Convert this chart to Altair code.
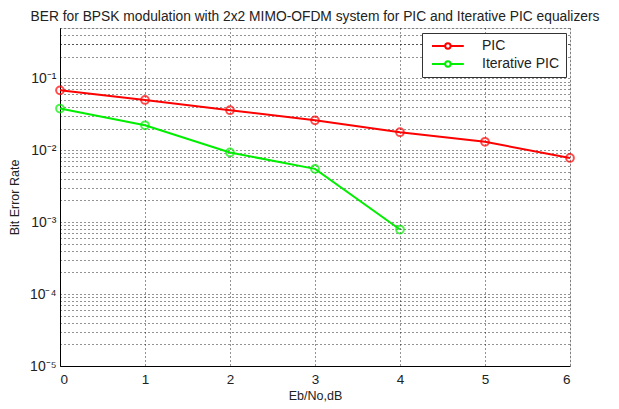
import altair as alt
import pandas as pd

snr_db = [0, 1, 2, 3, 4, 5, 6]
ber_pic = [0.068, 0.050, 0.036, 0.026, 0.0178, 0.0131, 0.0078]
snr_db_iter = [0, 1, 2, 3, 4]
ber_iter = [0.038, 0.0222, 0.0093, 0.0055, 0.00079]
series_names = ["PIC", "Iterative PIC"]
series_colors = ["#FF0000", "#00EE00"]
x_ticks = [0, 1, 2, 3, 4, 5, 6]

rows = [{"snr": s, "ber": b, "series": "PIC"} for s, b in zip(snr_db, ber_pic)]
rows += [{"snr": s, "ber": b, "series": "Iterative PIC"} for s, b in zip(snr_db_iter, ber_iter)]
df = pd.DataFrame(rows)

y_grid = [m * 10.0 ** e for e in range(-5, 0) for m in range(1, 10)] + [0.1, 0.2, 0.3, 0.4, 0.5]

sup = {-1: "10⁻¹", -2: "10⁻²", -3: "10⁻³", -4: "10⁻⁴", -5: "10⁻⁵"}
L = "round(log(datum.value)/LN10)"
expr = "''"
for k, v in sup.items():
    expr = f"{L} == {k} ? '{v}' : ({expr})"
label_expr = f"abs(log(datum.value)/LN10 - {L}) > 0.01 ? '' : ({expr})"

color_scale = alt.Scale(domain=series_names, range=series_colors)

legend_path = "M-1,0 L3.4,0 M5.2,0 L9.6,0 M3.4,0 A0.9,0.9 0 1,1 5.2,0 A0.9,0.9 0 1,1 3.4,0"

base = alt.Chart(df)

x_enc = alt.X("snr:Q", scale=alt.Scale(domain=[0, 6], nice=False),
              axis=alt.Axis(values=x_ticks, title="Eb/No,dB", format="d",
                            grid=True, gridDash=[1, 3], gridColor="#000000", gridOpacity=0.85,
                            ticks=False, labelFontSize=13.5, labelPadding=6,
                            titleFontSize=12.5, titleFontWeight="normal", titlePadding=4,
                            domainColor="#000000", labelColor="#222222", titleColor="#222222",
                            labelFont="Liberation Sans", titleFont="Liberation Sans"))
y_enc = alt.Y("ber:Q", scale=alt.Scale(type="log", domain=[1e-5, 0.5], nice=False),
              axis=alt.Axis(values=y_grid, labelExpr=label_expr, title="Bit Error Rate",
                            grid=True, gridDash=[1, 3], gridColor="#000000", gridOpacity=0.85,
                            ticks=False, labelFontSize=14, labelPadding=4,
                            titleFontSize=12.5, titleFontWeight="normal", titlePadding=8,
                            domainColor="#000000", labelColor="#222222", titleColor="#222222",
                            labelFont="Liberation Sans", titleFont="Liberation Sans",
                            labelOverlap=False))

color_enc = alt.Color("series:N", scale=color_scale, sort=series_names,
                      legend=alt.Legend(title=None, orient="none", legendX=362, legendY=5,
                                        fillColor="white", strokeColor="#333333",
                                        padding=6, symbolType=legend_path, symbolSize=36,
                                        symbolStrokeWidth=2, symbolFillColor="transparent",
                                        labelFontSize=14, labelOffset=40, rowPadding=4,
                                        labelFont="Liberation Sans", labelColor="#222222"))

lines = base.mark_line(strokeWidth=2).encode(x=x_enc, y=y_enc, color=color_enc)
points = base.mark_point(shape="circle", filled=False, size=60, strokeWidth=2).encode(
    x="snr:Q", y="ber:Q", color=alt.Color("series:N", scale=color_scale, legend=None))

chart = alt.layer(lines, points).properties(
    width=510, height=338,
    autosize=alt.AutoSizeParams(type="none"),
    padding={"left": 52, "top": 20, "right": 41, "bottom": 40},
    title=alt.TitleParams("BER for BPSK modulation with 2x2 MIMO-OFDM system for PIC and Iterative PIC equalizers",
                          fontSize=13.8, fontWeight="normal", font="Liberation Sans",
                          color="#222222", offset=-3, anchor="middle"),
).configure_view(stroke="#000000", strokeWidth=1).configure(background="white")

chart.save("out.html", embed_options={"renderer": "svg", "actions": False})
